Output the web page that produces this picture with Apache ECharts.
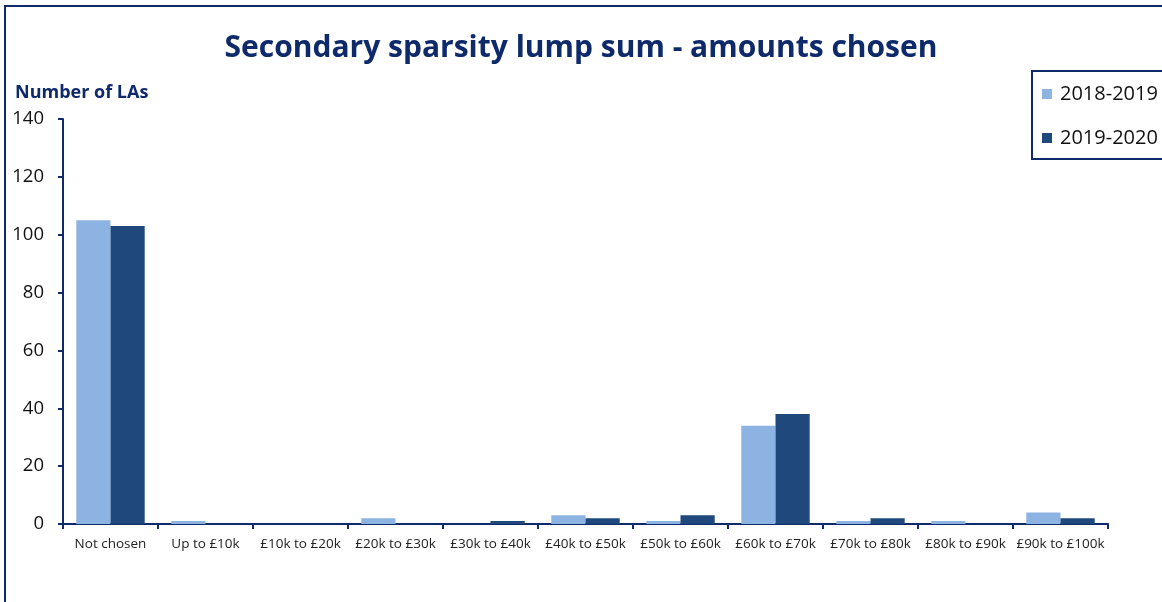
<!DOCTYPE html>
<html>
<head>
<meta charset="utf-8">
<script src="https://cdn.jsdelivr.net/npm/echarts@6/dist/echarts.min.js"></script>
<style>
  html, body { margin: 0; padding: 0; background: #fff; }
  #chart { width: 1162px; height: 602px; }
</style>
</head>
<body>
<div id="chart"></div>
<script>
const categories = ['Not chosen', 'Up to £10k', '£10k to £20k', '£20k to £30k', '£30k to £40k',
  '£40k to £50k', '£50k to £60k', '£60k to £70k', '£70k to £80k', '£80k to £90k', '£90k to £100k'];
const seriesNames = ['2018-2019', '2019-2020'];
const values2018 = [105, 1, 0, 2, 0, 3, 1, 34, 1, 1, 4];
const values2020 = [103, 0, 0, 0, 1, 2, 3, 38, 2, 0, 2];

const navy = '#0E2A6B';
const font = '"Open Sans", Lato, sans-serif';

const chart = echarts.init(document.getElementById('chart'));

chart.setOption({
  animation: false,
  textStyle: { fontFamily: font },
  title: {
    text: 'Secondary sparsity lump sum - amounts chosen',
    left: 'center',
    top: 28,
    textStyle: { fontSize: 30, fontWeight: 'bold', color: navy, fontFamily: font }
  },
  legend: {
    orient: 'vertical',
    left: 1037,
    top: 79,
    itemWidth: 10,
    itemHeight: 10,
    itemGap: 24,
    icon: 'rect',
    data: seriesNames,
    textStyle: { fontSize: 20, color: '#111', fontFamily: font, padding: [0, 0, 0, 3] }
  },
  graphic: [
    { type: 'rect', shape: { x: 5, y: 6, width: 1200, height: 700 },
      style: { fill: 'none', stroke: navy, lineWidth: 2 }, silent: true },
    { type: 'rect', shape: { x: 1032, y: 71, width: 200, height: 88 },
      style: { fill: 'none', stroke: navy, lineWidth: 2 }, silent: true },
    { type: 'text', left: 15, top: 84,
      style: { text: 'Number of LAs', fontSize: 18, fontWeight: 'bold', fill: navy, fontFamily: font } }
  ],
  grid: { left: 63, right: 54, top: 119, bottom: 78 },
  xAxis: {
    type: 'category',
    data: categories,
    axisLine: { lineStyle: { color: navy, width: 2 } },
    axisTick: { show: true, length: 5, lineStyle: { color: navy, width: 2 } },
    axisLabel: { fontSize: 13.5, color: '#222', margin: 13, interval: 0, fontFamily: font }
  },
  yAxis: {
    type: 'value',
    min: 0,
    max: 140,
    interval: 20,
    splitLine: { show: false },
    axisLine: { show: true, lineStyle: { color: navy, width: 2 } },
    axisTick: { show: true, length: 5, lineStyle: { color: navy, width: 2 } },
    axisLabel: { fontSize: 18.5, color: '#111', margin: 19, fontFamily: font }
  },
  series: [
    { name: seriesNames[0], type: 'bar', data: values2018, barGap: '0%', barCategoryGap: '28%',
      itemStyle: { color: '#8DB3E2' } },
    { name: seriesNames[1], type: 'bar', data: values2020,
      itemStyle: { color: '#1F497D' } }
  ]
});
</script>
</body>
</html>
